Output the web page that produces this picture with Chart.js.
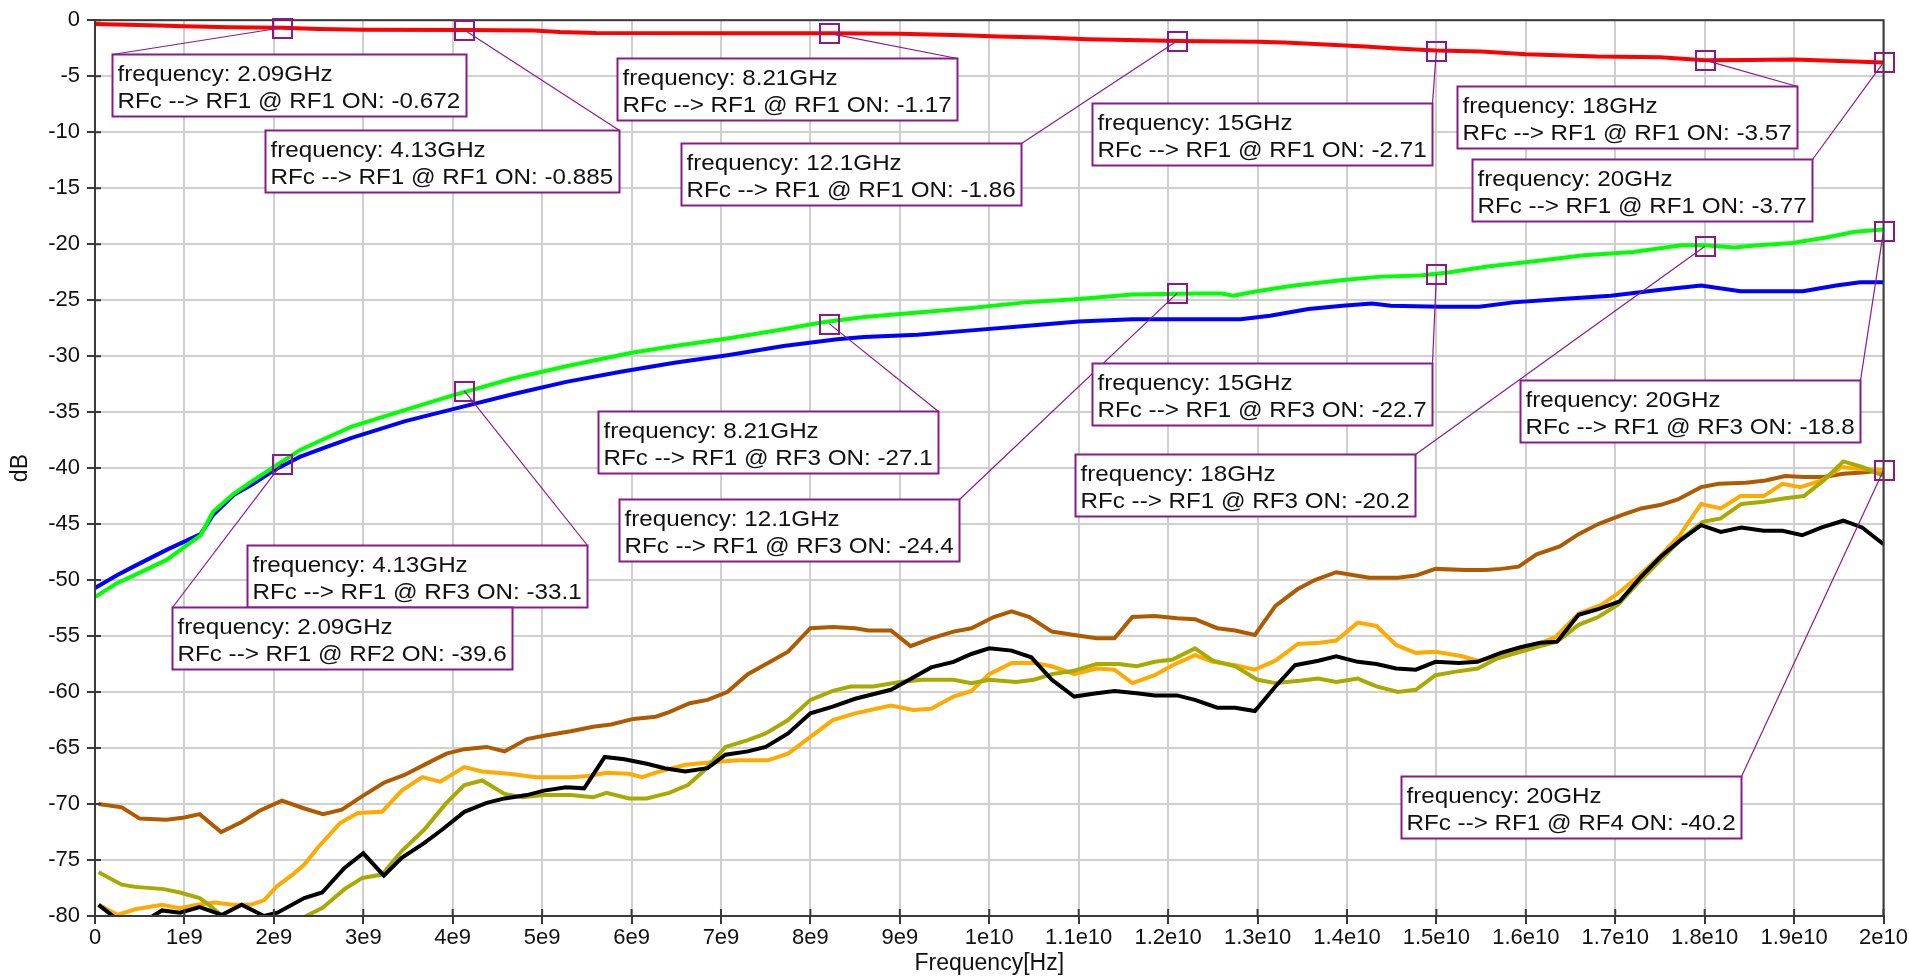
<!DOCTYPE html>
<html>
<head>
<meta charset="utf-8">
<script src="https://cdn.jsdelivr.net/npm/chart.js@4.4.1/dist/chart.umd.min.js"></script>
<style>
  html, body { margin: 0; padding: 0; background: #fff; overflow: hidden; }
  #wrap { width: 1909px; height: 980px; }
</style>
</head>
<body>
<div id="wrap"><canvas id="sparChart"></canvas></div>
<script>
// x tick labels (axis runs in GHz, labels shown in Hz like the original)
const xTickLabels = ['0', '1e9', '2e9', '3e9', '4e9', '5e9', '6e9', '7e9', '8e9', '9e9', '1e10',
  '1.1e10', '1.2e10', '1.3e10', '1.4e10', '1.5e10', '1.6e10', '1.7e10', '1.8e10', '1.9e10', '2e10'];

// RFc --> RF1 @ RF1 ON (red)
const fRed = [0, 0.6, 1.0, 1.5, 2.09, 2.5, 3, 4.13, 4.9, 5.2, 5.6, 7, 8.21, 9, 9.7, 10.1, 10.6, 11.1, 11.7, 12.1,
  13, 13.3, 13.7, 14.2, 14.6, 15, 15.5, 16, 16.8, 17.5, 18, 18.5, 19, 19.5, 20];
const vRed = [-0.35, -0.45, -0.55, -0.62, -0.672, -0.78, -0.85, -0.885, -0.92, -1.05, -1.15, -1.17, -1.17, -1.22, -1.35, -1.45, -1.55, -1.7, -1.8, -1.86,
  -1.92, -2.0, -2.15, -2.35, -2.55, -2.71, -2.8, -3.05, -3.25, -3.3, -3.57, -3.55, -3.5, -3.65, -3.77];

// RFc --> RF1 @ RF2 ON (blue)
const fBlue = [0, 0.24, 0.43, 0.8, 1.18, 1.32, 1.55, 1.77, 2.0, 2.29, 2.56, 2.87, 3.47, 4.07, 4.67, 5.27, 5.88, 6.48, 7.09, 7.7,
  8.3, 8.6, 9.2, 9.8, 10.4, 11.0, 11.6, 12.3, 12.81, 13.14, 13.57, 13.95, 14.28, 14.49, 15.04, 15.48, 15.86, 16.4, 16.95, 17.49,
  17.96, 18.4, 19.1, 19.47, 19.74, 20];
const vBlue = [-50.7, -49.6, -48.8, -47.3, -45.9, -44.2, -42.4, -41.4, -40.2, -39.0, -38.2, -37.3, -35.8, -34.6, -33.4, -32.3, -31.4, -30.6, -29.9, -29.1,
  -28.5, -28.3, -28.1, -27.7, -27.3, -26.9, -26.7, -26.7, -26.7, -26.4, -25.8, -25.5, -25.3, -25.5, -25.6, -25.6, -25.2, -24.9, -24.6, -24.1,
  -23.7, -24.2, -24.2, -23.7, -23.4, -23.4];

// RFc --> RF1 @ RF3 ON (green)
const fGreen = [0, 0.24, 0.43, 0.8, 1.18, 1.32, 1.55, 1.77, 2.0, 2.29, 2.56, 2.87, 3.47, 4.0, 4.67, 5.27, 6.0, 6.48, 7.09, 7.7,
  8.12, 8.6, 9.2, 9.8, 10.4, 11.0, 11.6, 12.3, 12.6, 12.73, 12.99, 13.41, 13.96, 14.38, 14.82, 15.15, 15.57, 16.12, 16.65, 17.2,
  17.74, 18.0, 18.33, 18.6, 18.98, 19.36, 19.68, 20];
const vGreen = [-51.5, -50.3, -49.6, -48.2, -46.0, -43.9, -42.3, -41.1, -39.9, -38.4, -37.4, -36.3, -34.8, -33.5, -32.0, -30.9, -29.7, -29.1, -28.4, -27.6,
  -27.0, -26.5, -26.1, -25.7, -25.2, -24.9, -24.5, -24.4, -24.4, -24.6, -24.2, -23.7, -23.2, -22.9, -22.8, -22.5, -22.0, -21.5, -21.0, -20.7,
  -20.1, -20.1, -20.3, -20.1, -19.9, -19.4, -18.9, -18.7];

// RFc --> RF1 @ RF4 ON (brown)
const fBrown = [0.04, 0.3, 0.5, 0.8, 1.0, 1.17, 1.41, 1.64, 1.84, 2.09, 2.34, 2.55, 2.76, 2.99, 3.23, 3.46, 3.73, 3.93, 4.13, 4.38,
  4.58, 4.83, 5.02, 5.32, 5.57, 5.77, 6.02, 6.27, 6.42, 6.65, 6.85, 7.07, 7.3, 7.55, 7.75, 8.0, 8.25, 8.5, 8.65, 8.9,
  9.12, 9.35, 9.6, 9.8, 10.05, 10.25, 10.45, 10.7, 10.95, 11.2, 11.4, 11.6, 11.85, 12.1, 12.3, 12.55, 12.75, 12.97, 13.2, 13.45,
  13.64, 13.88, 14.03, 14.25, 14.57, 14.77, 14.99, 15.33, 15.55, 15.72, 15.92, 16.12, 16.38, 16.59, 16.81, 17.07, 17.29, 17.5, 17.7, 17.96,
  18.16, 18.46, 18.68, 18.9, 19.11, 19.33, 19.55, 19.76, 20];
const vBrown = [-70.0, -70.3, -71.3, -71.4, -71.2, -70.9, -72.5, -71.6, -70.6, -69.7, -70.4, -70.9, -70.5, -69.3, -68.1, -67.4, -66.3, -65.5, -65.1, -64.9,
  -65.3, -64.2, -63.9, -63.5, -63.1, -62.9, -62.4, -62.2, -61.8, -61.0, -60.7, -60.0, -58.4, -57.3, -56.4, -54.3, -54.2, -54.3, -54.5, -54.5,
  -55.9, -55.2, -54.6, -54.3, -53.3, -52.8, -53.3, -54.6, -54.9, -55.2, -55.2, -53.3, -53.2, -53.4, -53.5, -54.3, -54.5, -54.9, -52.3, -50.8,
  -50.0, -49.3, -49.5, -49.8, -49.8, -49.6, -49.0, -49.1, -49.1, -49.0, -48.8, -47.7, -47.0, -45.9, -45.0, -44.2, -43.6, -43.3, -42.8, -41.7,
  -41.4, -41.3, -41.1, -40.7, -40.8, -40.8, -40.5, -40.4, -40.2];

// orange trace
const fOrange = [0.04, 0.25, 0.45, 0.75, 0.95, 1.14, 1.34, 1.54, 1.74, 1.89, 2.04, 2.21, 2.34, 2.49, 2.74, 2.94, 3.21, 3.43, 3.66, 3.86,
  4.13, 4.33, 4.63, 4.93, 5.32, 5.52, 5.72, 5.97, 6.12, 6.27, 6.6, 7.0, 7.2, 7.52, 7.75, 8.0, 8.25, 8.5, 8.9, 9.15,
  9.35, 9.6, 9.8, 10.0, 10.25, 10.5, 10.7, 10.95, 11.2, 11.4, 11.6, 11.85, 12.05, 12.3, 12.5, 12.75, 12.97, 13.2, 13.45, 13.7,
  13.88, 14.12, 14.33, 14.55, 14.77, 14.99, 15.29, 15.46, 15.72, 15.99, 16.33, 16.59, 16.85, 17.03, 17.25, 17.51, 17.72, 17.96, 18.18, 18.4,
  18.66, 18.87, 19.07, 19.31, 19.53, 19.76, 20];
const vOrange = [-79.0, -79.9, -79.4, -79.0, -79.3, -79.0, -78.8, -79.0, -79.0, -78.6, -77.3, -76.3, -75.4, -73.9, -71.7, -70.8, -70.7, -68.8, -67.6, -68.0,
  -66.7, -67.1, -67.3, -67.6, -67.6, -67.5, -67.2, -67.3, -67.6, -67.2, -66.5, -66.2, -66.1, -66.1, -65.5, -64.0, -62.5, -61.9, -61.2, -61.6,
  -61.5, -60.4, -59.9, -58.4, -57.4, -57.4, -57.7, -58.4, -57.9, -58.0, -59.2, -58.5, -57.6, -56.7, -57.3, -57.6, -58.0, -57.2, -55.7, -55.6,
  -55.4, -53.8, -54.1, -55.8, -56.5, -56.4, -56.8, -57.2, -56.8, -56.2, -55.1, -53.0, -52.2, -51.2, -49.7, -47.8, -46.0, -43.2, -43.6, -42.5,
  -42.5, -41.4, -41.7, -41.1, -39.9, -40.1, -40.2];

// olive trace
const fOlive = [0.04, 0.3, 0.45, 0.77, 0.95, 1.17, 1.29, 1.42, 1.6, 2.2, 2.36, 2.54, 2.79, 2.99, 3.21, 3.43, 3.68, 3.93, 4.13, 4.33,
  4.58, 4.78, 5.02, 5.32, 5.57, 5.72, 5.97, 6.17, 6.42, 6.63, 6.8, 7.05, 7.3, 7.5, 7.75, 8.0, 8.25, 8.45, 8.7, 9.0,
  9.25, 9.6, 9.8, 10.0, 10.3, 10.5, 10.7, 10.95, 11.2, 11.45, 11.65, 11.85, 12.05, 12.3, 12.5, 12.75, 13.0, 13.2, 13.47, 13.68,
  13.88, 14.12, 14.33, 14.57, 14.77, 14.99, 15.2, 15.46, 15.68, 15.9, 16.16, 16.35, 16.59, 16.81, 17.03, 17.25, 17.51, 17.74, 17.98, 18.18,
  18.41, 18.66, 18.9, 19.11, 19.33, 19.55, 19.76, 20];
const vOlive = [-76.1, -77.2, -77.4, -77.6, -77.9, -78.4, -79.1, -80.0, -81.5, -81.5, -80.0, -79.3, -77.6, -76.6, -76.3, -74.2, -72.3, -69.9, -68.3, -67.9,
  -69.1, -69.4, -69.2, -69.2, -69.4, -69.0, -69.5, -69.5, -69.0, -68.3, -67.1, -64.9, -64.3, -63.7, -62.5, -60.7, -59.9, -59.5, -59.5, -59.1,
  -58.9, -58.9, -59.2, -58.9, -59.1, -58.9, -58.4, -58.1, -57.5, -57.5, -57.7, -57.3, -57.1, -56.1, -57.2, -57.7, -58.9, -59.2, -59.0, -58.8,
  -59.1, -58.8, -59.5, -60.0, -59.8, -58.5, -58.2, -57.9, -57.0, -56.5, -55.9, -55.5, -54.0, -53.3, -52.2, -50.3, -48.2, -46.3, -44.8, -44.5,
  -43.2, -43.0, -42.7, -42.5, -41.1, -39.4, -39.9, -40.7];

// black trace
const fBlack = [0.04, 0.2, 0.4, 0.65, 0.75, 0.95, 1.17, 1.42, 1.64, 1.89, 2.04, 2.34, 2.54, 2.79, 3.0, 3.23, 3.43, 3.68, 3.88, 4.13,
  4.38, 4.58, 4.83, 5.02, 5.27, 5.47, 5.7, 5.92, 6.17, 6.37, 6.6, 6.85, 7.05, 7.3, 7.5, 7.75, 8.0, 8.25, 8.5, 8.9,
  9.15, 9.35, 9.6, 9.8, 10.0, 10.25, 10.47, 10.7, 10.95, 11.2, 11.4, 11.65, 11.85, 12.1, 12.3, 12.55, 12.75, 12.97, 13.2, 13.42,
  13.68, 13.88, 14.12, 14.33, 14.55, 14.77, 14.99, 15.25, 15.46, 15.72, 15.94, 16.16, 16.35, 16.59, 16.81, 17.05, 17.29, 17.51, 17.72, 17.96,
  18.18, 18.41, 18.66, 18.87, 19.09, 19.31, 19.55, 19.76, 20];
const vBlack = [-79.0, -80.0, -81.5, -80.0, -79.5, -79.7, -79.2, -79.9, -79.0, -80.0, -79.7, -78.4, -77.9, -75.7, -74.4, -76.4, -74.8, -73.5, -72.3, -70.7,
  -69.9, -69.5, -69.2, -68.8, -68.5, -68.6, -65.8, -66.0, -66.4, -66.8, -67.1, -66.8, -65.6, -65.3, -64.9, -63.7, -61.9, -61.3, -60.6, -59.8,
  -58.7, -57.8, -57.3, -56.6, -56.1, -56.3, -56.9, -58.9, -60.4, -60.1, -59.9, -60.1, -60.3, -60.3, -60.7, -61.4, -61.4, -61.7, -59.5, -57.6,
  -57.2, -56.8, -57.3, -57.5, -57.9, -58.0, -57.3, -57.4, -57.3, -56.5, -56.0, -55.6, -55.5, -53.1, -52.6, -51.9, -49.7, -47.9, -46.5, -45.1,
  -45.7, -45.3, -45.6, -45.6, -46.0, -45.3, -44.7, -45.3, -46.8];

// marker read-outs (frequency in GHz, port, value in dB)
const markFreq = [2.09, 4.13, 8.21, 12.1, 15, 18, 20, 4.13, 8.21, 12.1, 15, 18, 20, 2.09, 20];
const markPort = ['RF1', 'RF1', 'RF1', 'RF1', 'RF1', 'RF1', 'RF1', 'RF3', 'RF3', 'RF3', 'RF3', 'RF3', 'RF3', 'RF2', 'RF4'];
const markValue = [-0.672, -0.885, -1.17, -1.86, -2.71, -3.57, -3.77, -33.1, -27.1, -24.4, -22.7, -20.2, -18.8, -39.6, -40.2];

// where each read-out box sits (top-left, in axis units) and which top corner the leader goes to
const boxAt = [[0.187, -3.0], [1.90, -9.85], [5.84, -3.35], [6.55, -10.97], [11.15, -7.39], [15.23, -5.87], [15.40, -12.39],
  [1.70, -46.85], [5.62, -34.9], [5.86, -42.8], [11.15, -30.65], [10.96, -38.7], [15.93, -32.15], [0.86, -52.4], [14.6, -67.5]];
const boxCorner = ['left', 'right', 'right', 'right', 'right', 'right', 'right',
  'right', 'right', 'right', 'right', 'right', 'right', 'left', 'right'];

const PURPLE = '#8a1a8a';
const AXIS = '#3a3a3a';
const FONT = '"Liberation Sans", Arial, sans-serif';

function pts(f, v) {
  return f.map((x, i) => ({ x: x, y: v[i] }));
}

function trace(label, f, v, color) {
  return {
    label: label,
    data: pts(f, v),
    borderColor: color,
    backgroundColor: color,
    borderWidth: 4,
    pointRadius: 0,
    tension: 0,
    clip: 1
  };
}

// frame, inner tick stubs and marker read-outs
const overlayPlugin = {
  id: 'overlay',
  afterDatasetsDraw(chart) {
    const ctx = chart.ctx;
    const a = chart.chartArea;
    const xs = chart.scales.x, ys = chart.scales.y;
    ctx.save();

    // plot frame
    ctx.strokeStyle = AXIS;
    ctx.lineWidth = 2;
    ctx.strokeRect(a.left, a.top, a.right - a.left, a.bottom - a.top);

    // tick stubs inside the frame
    ctx.beginPath();
    xs.ticks.forEach(t => {
      const px = xs.getPixelForValue(t.value);
      ctx.moveTo(px, a.bottom);
      ctx.lineTo(px, a.bottom - 7);
    });
    ys.ticks.forEach(t => {
      const py = ys.getPixelForValue(t.value);
      ctx.moveTo(a.left, py);
      ctx.lineTo(a.left + 6, py);
    });
    ctx.stroke();

    // read-out boxes
    ctx.font = '22px ' + FONT;
    const boxes = markFreq.map((f, i) => {
      const l1 = 'frequency: ' + f + 'GHz';
      const l2 = 'RFc --> RF1 @ ' + markPort[i] + ' ON: ' + markValue[i];
      const tw = Math.max(ctx.measureText(l1).width, ctx.measureText(l2).width) * 1.1;
      const bx = Math.round(xs.getPixelForValue(boxAt[i][0])) + 0.5;
      const by = Math.round(ys.getPixelForValue(boxAt[i][1])) + 0.5;
      const bw = Math.round(tw + 11);
      return {
        l1, l2, bx, by, bw, bh: 62,
        mx: xs.getPixelForValue(f),
        my: ys.getPixelForValue(markValue[i]),
        cx: boxCorner[i] === 'left' ? bx : bx + bw
      };
    });

    // leaders
    ctx.strokeStyle = PURPLE;
    ctx.lineWidth = 1.2;
    boxes.forEach(b => {
      ctx.beginPath();
      ctx.moveTo(b.mx, b.my);
      ctx.lineTo(b.cx, b.by);
      ctx.stroke();
    });

    boxes.forEach(b => {
      ctx.fillStyle = '#fff';
      ctx.fillRect(b.bx, b.by, b.bw, b.bh);
      ctx.strokeStyle = PURPLE;
      ctx.lineWidth = 2;
      ctx.strokeRect(b.bx, b.by, b.bw, b.bh);
      ctx.fillStyle = '#111';
      ctx.textBaseline = 'alphabetic';
      ctx.textAlign = 'left';
      ctx.save();
      ctx.translate(b.bx + 5, b.by + 26);
      ctx.scale(1.1, 1);
      ctx.fillText(b.l1, 0, 0);
      ctx.fillText(b.l2, 0, 27);
      ctx.restore();
    });

    // marker squares
    ctx.strokeStyle = PURPLE;
    ctx.lineWidth = 2;
    boxes.forEach(b => {
      ctx.strokeRect(Math.round(b.mx) - 9, Math.round(b.my) - 9, 19, 19);
    });

    ctx.restore();
  }
};

const ctx = document.getElementById('sparChart').getContext('2d');
const chart = new Chart(ctx, {
  type: 'line',
  data: {
    datasets: [
      trace('RFc --> RF1 @ RF1 ON', fRed, vRed, '#ff0000'),
      trace('RFc --> RF1 @ RF3 ON', fGreen, vGreen, '#00ff00'),
      trace('RFc --> RF1 @ RF2 ON', fBlue, vBlue, '#0000ff'),
      trace('Isolation A', fBlack, vBlack, '#000000'),
      trace('Isolation B', fOlive, vOlive, '#a8aa00'),
      trace('Isolation C', fOrange, vOrange, '#ffaa00'),
      trace('RFc --> RF1 @ RF4 ON', fBrown, vBrown, '#b05a00')
    ]
  },
  options: {
    responsive: true,
    maintainAspectRatio: false,
    animation: false,
    layout: { padding: { top: 19, right: 24, bottom: 0, left: 0 } },
    plugins: {
      legend: { display: false },
      tooltip: { enabled: false }
    },
    scales: {
      x: {
        type: 'linear',
        min: 0,
        max: 20,
        afterFit: s => { s.height = 64; },
        afterBuildTicks: s => { s.ticks = xTickLabels.map((_, i) => ({ value: i })); },
        ticks: {
          autoSkip: false,
          maxRotation: 0,
          padding: 1,
          color: '#111',
          font: { family: FONT, size: 22 },
          callback: v => xTickLabels[Math.round(v)]
        },
        grid: { color: '#cfcfcf', lineWidth: 2, tickColor: AXIS, tickLength: 8, tickWidth: 2 },
        border: { color: AXIS, width: 2 },
        title: {
          display: true,
          text: 'Frequency[Hz]',
          color: '#111',
          font: { family: FONT, size: 23 },
          padding: { top: 2, bottom: 3 }
        }
      },
      y: {
        type: 'linear',
        min: -80,
        max: 0,
        afterFit: s => { s.width = 95; },
        ticks: {
          stepSize: 5,
          padding: 7,
          color: '#111',
          font: { family: FONT, size: 22 }
        },
        grid: { color: '#cfcfcf', lineWidth: 2, tickColor: AXIS, tickLength: 8, tickWidth: 2 },
        border: { color: AXIS, width: 2 },
        title: {
          display: true,
          text: 'dB',
          color: '#111',
          font: { family: FONT, size: 23 },
          padding: { top: 7, bottom: 0 }
        }
      }
    }
  },
  plugins: [overlayPlugin]
});
</script>
</body>
</html>
